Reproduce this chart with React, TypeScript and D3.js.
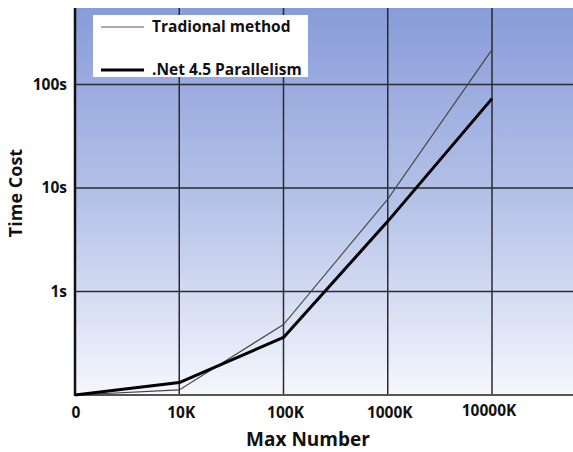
import * as d3 from "d3";

const categories = ["0", "10K", "100K", "1000K", "10000K"];
const traditional = [0.1, 0.112, 0.48, 7.8, 217];
const parallel = [0.1, 0.132, 0.36, 4.76, 73];
const yTicks = [1, 10, 100];
const yTickLabels = ["1s", "10s", "100s"];

const W = 573;
const H = 452;
const left = 75;
const top = 8;
const bottom = 395;
const step = 104.25;

export default function App() {
  const x = d3
    .scalePoint<string>()
    .domain(categories)
    .range([left, left + step * (categories.length - 1)]);

  const y = d3.scaleLog().domain([0.1, 548]).range([bottom, top]);

  const line = d3
    .line<number>()
    .x((_, i) => x(categories[i]) as number)
    .y((d) => y(d));

  const font = "'Open Sans', 'DejaVu Sans', sans-serif";

  return (
    <svg
      width={W}
      height={H}
      style={{ position: "absolute", left: 0, top: 0, background: "#fff" }}
      fontFamily={font}
      fontWeight="bold"
    >
      <defs>
        <linearGradient id="bg" x1="0" y1="0" x2="0" y2="1">
          <stop offset="0%" stopColor="#889cd8" />
          <stop offset="50%" stopColor="#b5c2e8" />
          <stop offset="100%" stopColor="#f5f7fd" />
        </linearGradient>
      </defs>

      {/* plot background */}
      <rect x={left} y={top} width={W - left} height={bottom - top} fill="url(#bg)" />

      {/* horizontal grid */}
      {yTicks.map((t) => (
        <line key={t} x1={left} x2={W} y1={y(t)} y2={y(t)} stroke="#2a2a33" strokeWidth={1.5} />
      ))}
      {/* vertical grid */}
      {categories.slice(1).map((c) => (
        <line key={c} x1={x(c)} x2={x(c)} y1={top} y2={bottom} stroke="#2a2a33" strokeWidth={1.5} />
      ))}

      {/* axes */}
      <line x1={left} x2={W} y1={bottom} y2={bottom} stroke="#555" strokeWidth={2} />
      <line x1={left} x2={left} y1={top} y2={bottom + 1} stroke="#111" strokeWidth={2.5} />

      {/* series */}
      <path d={line(traditional) ?? ""} fill="none" stroke="#444" strokeWidth={1.1} />
      <path d={line(parallel) ?? ""} fill="none" stroke="#000" strokeWidth={3} strokeLinejoin="round" />

      {/* y tick labels */}
      {yTicks.map((t, i) => (
        <text key={t} x={67} y={y(t)} dy="0.35em" textAnchor="end" fontSize={15.5} fill="#111">
          {yTickLabels[i]}
        </text>
      ))}
      {/* x tick labels */}
      {categories.map((c, i) => (
        <text
          key={c}
          x={(x(c) as number) + (i === 0 ? 1 : i === 4 ? -3 : 2)}
          y={i === 4 ? 416 : 418}
          textAnchor="middle"
          fontSize={15.5}
          fill="#111"
        >
          {c}
        </text>
      ))}

      {/* axis titles */}
      <text x={308} y={446} textAnchor="middle" fontSize={19} fill="#111">
        Max Number
      </text>
      <text
        transform="translate(22,193) rotate(-90)"
        textAnchor="middle"
        fontSize={18}
        fill="#111"
      >
        Time Cost
      </text>

      {/* legend */}
      <rect x={93} y={15} width={215} height={62} fill="#fff" />
      <line x1={101} x2={144} y1={27} y2={27} stroke="#555" strokeWidth={1.2} />
      <text x={152} y={32} fontSize={15.5} fill="#111">
        Tradional method
      </text>
      <line x1={101} x2={144} y1={70} y2={70} stroke="#000" strokeWidth={3} />
      <text x={152} y={75} fontSize={15.5} fill="#111">
        .Net 4.5 Parallelism
      </text>
    </svg>
  );
}
